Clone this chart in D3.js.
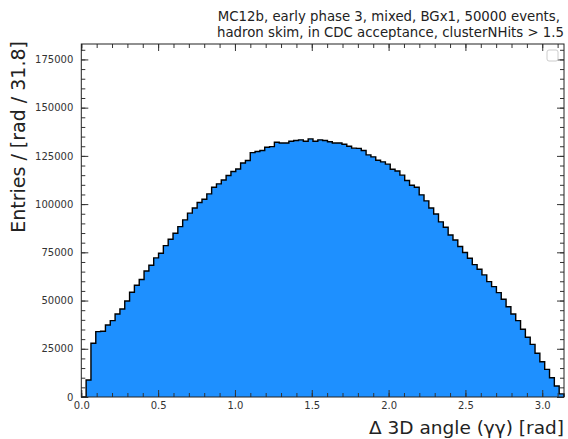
<!DOCTYPE html>
<html>
<head>
<meta charset="utf-8">
<script src="https://cdn.jsdelivr.net/npm/d3@7"></script>
<style>
  body { margin: 0; background: #fff; }
  svg text { font-family: "DejaVu Sans", sans-serif; }
</style>
</head>
<body>
<svg id="chart" width="568" height="439"></svg>
<script>
// histogram of delta 3D angle, 100 bins over [0, pi]
var binLo = 0;
var binHi = Math.PI;
var counts = [
  0, 8800, 27900, 33900, 34100, 37300, 39600, 43000, 45600, 49800,
  54300, 57900, 60900, 65300, 68300, 72100, 74500, 78500, 81800, 84900,
  88300, 91800, 95300, 98000, 100800, 102500, 105300, 108700, 110500, 112500,
  114800, 116900, 118200, 121300, 122600, 126700, 127300, 127800, 129500, 129800,
  132100, 131700, 131700, 132600, 133000, 133300, 132600, 133800, 132600, 133300,
  133000, 132300, 131700, 131700, 131000, 130000, 129000, 128900, 127800, 125500,
  124500, 122700, 121900, 120700, 118100, 117200, 115000, 112200, 109800, 108700,
  104800, 101700, 98000, 94900, 90800, 88000, 84000, 81400, 78000, 74900,
  71900, 68600, 66200, 63300, 59800, 57200, 54100, 50700, 46800, 43000,
  39600, 35100, 31000, 27300, 22700, 18300, 14300, 10000, 5700, 1600
];
var xTicks = [0, 0.5, 1.0, 1.5, 2.0, 2.5, 3.0];
var xMinorTicks = d3.range(0, 32).map(function (i) { return i / 10; });
var yTicks = [0, 25000, 50000, 75000, 100000, 125000, 150000, 175000];
var yMinorTicks = d3.range(0, 37).map(function (i) { return i * 5000; });
var titleLines = [
  "MC12b, early phase 3, mixed, BGx1, 50000 events,",
  "hadron skim, in CDC acceptance, clusterNHits > 1.5"
];

var svg = d3.select("#chart"),
  margin = {top: 44, right: 4, bottom: 42, left: 81.3},
  width = +svg.attr("width") - margin.left - margin.right,
  height = +svg.attr("height") - margin.top - margin.bottom;
var g = svg.append("g").attr("transform", "translate(" + margin.left + "," + margin.top + ")");

var x = d3.scaleLinear().domain([binLo, binHi]).range([0, width]);
var y = d3.scaleLinear().domain([0, 183000]).range([height, 0]);

var binW = (binHi - binLo) / counts.length;
var pts = [[binLo, 0]];
counts.forEach(function (c, i) { pts.push([binLo + i * binW, c]); });
pts.push([binHi, counts[counts.length - 1]]);
pts.push([binHi, 0]);

var area = d3.area()
  .x(d => x(d[0]))
  .y0(y(0))
  .y1(d => y(d[1]))
  .curve(d3.curveStepAfter);

var line = d3.line()
  .x(d => x(d[0]))
  .y(d => y(d[1]))
  .curve(d3.curveStepAfter);

g.append("path")
  .attr("d", area(pts))
  .attr("fill", "#1e90ff");

g.append("path")
  .attr("d", line(pts))
  .attr("fill", "none")
  .attr("stroke", "#000")
  .attr("stroke-width", 1.4);

// axes, ticks pointing inward on all four sides
function styleAxis(sel) {
  sel.select(".domain").remove();
  sel.selectAll("line").attr("stroke", "#333");
  sel.selectAll("text")
    .attr("fill", "#333")
    .style("font-size", "10px");
}

g.append("g")
  .attr("transform", "translate(0," + height + ")")
  .call(d3.axisBottom(x).tickValues(xMinorTicks).tickSize(-4).tickFormat(""))
  .call(styleAxis);
g.append("g")
  .attr("transform", "translate(0," + height + ")")
  .call(d3.axisBottom(x).tickValues(xTicks).tickSize(-7).tickPadding(5).tickFormat(d3.format(".1f")))
  .call(styleAxis);
g.append("g")
  .call(d3.axisTop(x).tickValues(xMinorTicks).tickSize(-4).tickFormat(""))
  .call(styleAxis);
g.append("g")
  .call(d3.axisTop(x).tickValues(xTicks).tickSize(-7).tickFormat(""))
  .call(styleAxis);

g.append("g")
  .call(d3.axisLeft(y).tickValues(yMinorTicks).tickSize(-4).tickFormat(""))
  .call(styleAxis);
g.append("g")
  .call(d3.axisLeft(y).tickValues(yTicks).tickSize(-7).tickPadding(8).tickFormat(d3.format("d")))
  .call(styleAxis);
g.append("g")
  .attr("transform", "translate(" + width + ",0)")
  .call(d3.axisRight(y).tickValues(yMinorTicks).tickSize(-4).tickFormat(""))
  .call(styleAxis);
g.append("g")
  .attr("transform", "translate(" + width + ",0)")
  .call(d3.axisRight(y).tickValues(yTicks).tickSize(-7).tickFormat(""))
  .call(styleAxis);

// frame
g.append("rect")
  .attr("width", width)
  .attr("height", height)
  .attr("fill", "none")
  .attr("stroke", "#222")
  .attr("stroke-width", 1);

// empty legend box
g.append("rect")
  .attr("x", width - 17)
  .attr("y", 6)
  .attr("width", 11)
  .attr("height", 11)
  .attr("rx", 2)
  .attr("fill", "#fff")
  .attr("stroke", "#ccc");

// labels
svg.append("text")
  .attr("x", 564)
  .attr("y", 434)
  .attr("text-anchor", "end")
  .style("font-size", "18.5px")
  .attr("fill", "#222")
  .text("Δ 3D angle (γγ) [rad]");

svg.append("text")
  .attr("transform", "translate(25,41) rotate(-90)")
  .attr("text-anchor", "end")
  .style("font-size", "19px")
  .attr("fill", "#222")
  .text("Entries / [rad / 31.8]");

svg.selectAll(".title")
  .data(titleLines)
  .enter().append("text")
  .attr("class", "title")
  .attr("x", (d, i) => i == 0 ? 560 : 564)
  .attr("y", (d, i) => 21 + i * 16)
  .attr("text-anchor", "end")
  .style("font-size", "13.3px")
  .attr("fill", "#222")
  .text(d => d);
</script>
</body>
</html>
